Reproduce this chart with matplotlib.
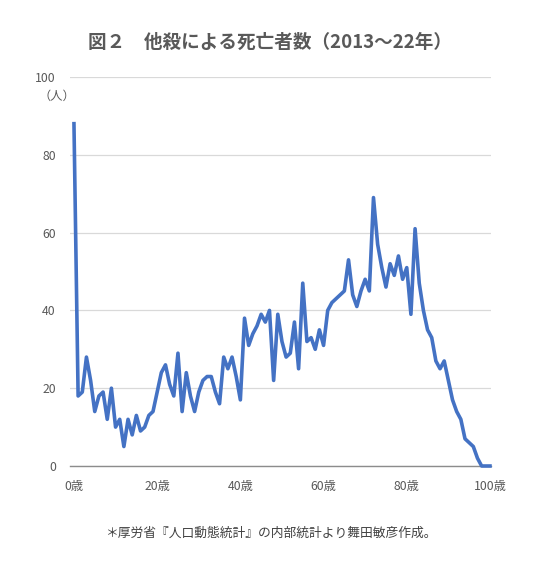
import matplotlib
matplotlib.use("Agg")
import matplotlib.pyplot as plt

plt.rcParams['font.family'] = ['Noto Sans CJK JP', 'DejaVu Sans']

title = "図２　他殺による死亡者数（2013～22年）"
footnote = "＊厚労省『人口動態統計』の内部統計より舞田敏彦作成。"
y_unit = "（人）"

ages = list(range(0, 101))
deaths = [88, 18, 19, 28, 22, 14, 18, 19, 12, 20,
          10, 12, 5, 12, 8, 13, 9, 10, 13, 14,
          19, 24, 26, 21, 18, 29, 14, 24, 18, 14,
          19, 22, 23, 23, 19, 16, 28, 25, 28, 23,
          17, 38, 31, 34, 36, 39, 37, 40, 22, 39,
          32, 28, 29, 37, 25, 47, 32, 33, 30, 35,
          31, 40, 42, 43, 44, 45, 53, 44, 41, 45,
          48, 45, 69, 57, 51, 46, 52, 49, 54, 48,
          51, 39, 61, 47, 40, 35, 33, 27, 25, 27,
          22, 17, 14, 12, 7, 6, 5, 2, 0, 0,
          0]

x_ticks = [0, 20, 40, 60, 80, 100]
x_ticklabels = ["0歳", "20歳", "40歳", "60歳", "80歳", "100歳"]
y_ticks = [0, 20, 40, 60, 80, 100]
y_ticklabels = ["0", "20", "40", "60", "80", "100"]

W, H = 550, 580
fig = plt.figure(figsize=(W / 100, H / 100), dpi=100)
left_px, right_px, top_px, bottom_px = 69.8, 491, 77, 466
ax = fig.add_axes([left_px / W, 1 - bottom_px / H, (right_px - left_px) / W, (bottom_px - top_px) / H])

txt = '#595959'
ax.plot(ages, deaths, color='#4472C4', linewidth=2.6, solid_joinstyle='round', clip_on=False, zorder=3)

ax.set_xlim(-1, 100.25)
ax.set_ylim(0, 100)
ax.set_xticks(x_ticks)
ax.set_xticklabels(x_ticklabels)
ax.set_yticks(y_ticks)
ax.set_yticklabels(y_ticklabels)
ax.tick_params(axis='both', length=0, labelsize=8.8, labelcolor=txt)
ax.tick_params(axis='x', pad=10)
ax.tick_params(axis='y', pad=10)
ax.grid(axis='y', color='#D9D9D9', linewidth=0.9)
ax.set_axisbelow(True)
for s in ['top', 'right', 'left']:
    ax.spines[s].set_visible(False)
ax.spines['bottom'].set_color('#8C8C8C')
ax.spines['bottom'].set_linewidth(1.0)
ax.spines['bottom'].set_zorder(2)

fig.text(270 / W, 1 - 42 / H, title, ha='center', va='center', fontsize=13.4, fontweight='bold', color=txt)
fig.text(57 / W, 1 - 96 / H, y_unit, ha='center', va='center', fontsize=8.8, color=txt)
fig.text(271 / W, 1 - 533 / H, footnote, ha='center', va='center', fontsize=9.2, color='#404040')

fig.savefig('out.png', dpi=100, facecolor='white')
